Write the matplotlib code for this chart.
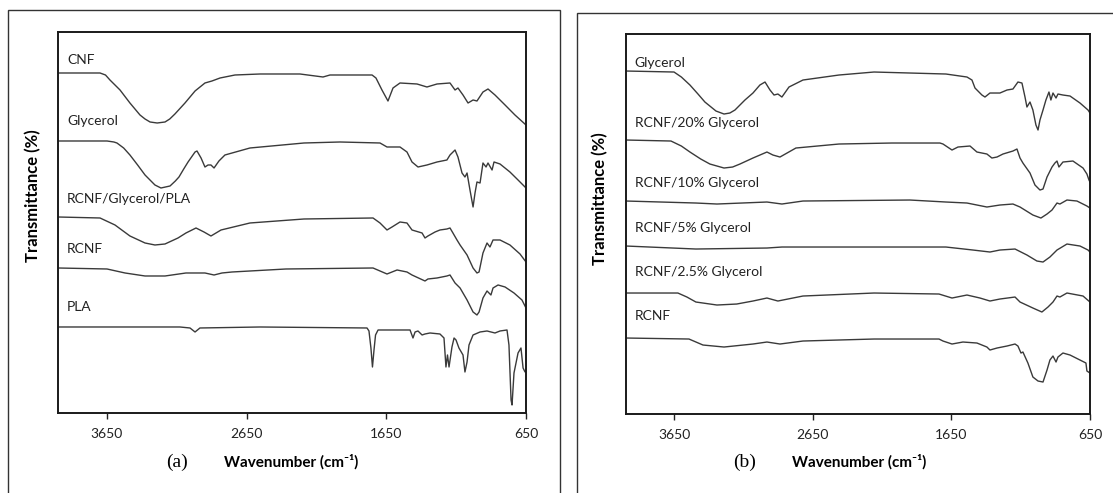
import matplotlib
matplotlib.use("Agg")
import matplotlib.pyplot as plt
from matplotlib.patches import Rectangle

plt.rcParams["font.family"] = ["Lato", "DejaVu Sans"]

# ---------------- panel (a) spectra (wavenumber, transmittance a.u.) ----------------
cnf_wn = [4000, 3699, 3660, 3628, 3556, 3485, 3413, 3377, 3341, 3290, 3234, 3200, 3163, 3091,
          3019, 2948, 2898, 2840, 2733, 2554, 2268, 2103, 2053, 1752, 1724, 1681, 1638, 1602,
          1552, 1430, 1359, 1287, 1194, 1158, 1137, 1101, 1065, 1029, 1001, 958, 922, 872,
          800, 729, 650]
cnf_t = [340, 340, 338, 333, 323, 310, 298, 294, 291, 290, 291, 294, 299, 310,
         322, 330, 332, 335, 338, 339, 339, 336, 338, 338, 335, 323, 312, 325,
         330, 329, 326, 329, 330, 323, 325, 318, 310, 313, 312, 321, 324, 318,
         308, 298, 288]

gly_a_wn = [4000, 3649, 3600, 3578, 3530, 3485, 3430, 3377, 3306, 3263, 3198, 3160, 3134, 3100,
            3069, 3019, 3005, 2976, 2948, 2926, 2905, 2883, 2848, 2805, 2626, 2239, 1981, 1695,
            1645, 1552, 1502, 1466, 1423, 1359, 1287, 1216, 1194, 1158, 1137, 1108, 1087, 1072,
            1051, 1029, 1015, 1001, 979, 958, 936, 922, 893, 879, 836, 765, 707, 650]
gly_a_t = [272, 272, 271, 270, 265, 258, 248, 238, 228, 225, 227, 232, 236, 244,
           251, 261, 262, 255, 246, 248, 248, 245, 252, 258, 265, 270, 271, 270,
           266, 266, 261, 251, 246, 248, 251, 253, 258, 263, 256, 240, 236, 240,
           223, 206, 220, 231, 230, 250, 246, 250, 243, 251, 249, 241, 233, 225]

rgp_wn = [4000, 3699, 3592, 3485, 3377, 3306, 3234, 3141, 3084, 3012, 2955, 2905, 2869, 2833,
          2626, 2239, 1745, 1695, 1645, 1609, 1552, 1502, 1466, 1394, 1373, 1352, 1301, 1266,
          1216, 1194, 1173, 1144, 1122, 1072, 1029, 1001, 986, 958, 929, 908, 886, 836, 765,
          693, 650]
rgp_t = [196, 195, 188, 177, 170, 168, 169, 175, 180, 185, 181, 177, 180, 183,
         190, 194, 195, 190, 183, 186, 191, 190, 183, 180, 175, 177, 181, 183,
         184, 185, 180, 173, 168, 158, 145, 140, 141, 160, 170, 166, 173, 173, 168,
         159, 151]

rcnf_a_wn = [4000, 3649, 3520, 3377, 3234, 3084, 2948, 2883, 2826, 2754, 2368, 1745, 1645, 1573,
             1502, 1466, 1373, 1352, 1287, 1216, 1194, 1158, 1122, 1072, 1029, 1001, 986, 958,
             929, 901, 886, 850, 800, 736, 679, 650]
rcnf_a_t = [145, 144, 140, 137, 137, 140, 140, 138, 140, 141, 144, 145, 139, 143,
            141, 138, 132, 134, 135, 137, 138, 130, 125, 113, 101, 98, 101, 115,
            122, 118, 125, 128, 126, 120, 113, 105]

pla_wn = [4000, 3127, 3055, 3019, 2984, 2554, 1788, 1774, 1760, 1749, 1738, 1727, 1709, 1480,
          1459, 1444, 1423, 1394, 1373, 1337, 1266, 1237, 1223, 1212, 1201, 1180, 1165, 1151,
          1130, 1101, 1087, 1072, 1058, 1029, 979, 929, 872, 836, 786, 772, 757, 750, 736,
          707, 686, 671, 657, 650]
pla_t = [86, 86, 85, 81, 85, 86, 85, 82, 65, 46, 63, 78, 83, 83,
         75, 81, 82, 78, 79, 80, 79, 75, 46, 58, 46, 66, 75, 73,
         65, 58, 41, 51, 68, 78, 81, 82, 80, 82, 83, 68, 13, 8, 40,
         60, 65, 45, 41, 41]

# ---------------- panel (b) spectra ----------------
gly_b_wn = [4000, 3653, 3600, 3538, 3480, 3430, 3350, 3292, 3250, 3213, 3141, 3083, 3033, 2996,
            2960, 2931, 2903, 2874, 2823, 2722, 2462, 2209, 1690, 1538, 1502, 1480, 1430, 1408,
            1372, 1300, 1249, 1206, 1170, 1141, 1119, 1105, 1083, 1062, 1040, 1025, 1011, 989,
            968, 946, 932, 917, 895, 881, 845, 794, 722, 664, 650]
gly_b_t = [343, 342, 337, 329, 320, 312, 303, 300, 301, 304, 314, 321, 329, 332,
           324, 319, 320, 317, 327, 334, 339, 342, 340, 337, 334, 326, 319, 317,
           321, 321, 324, 325, 332, 331, 317, 307, 312, 304, 289, 284, 294, 304,
           314, 322, 314, 321, 316, 320, 319, 318, 311, 304, 301]

g20_wn = [4000, 3675, 3600, 3538, 3460, 3394, 3292, 3230, 3177, 3083, 2982, 2939, 2888, 2773,
          2462, 2080, 1733, 1711, 1646, 1603, 1516, 1466, 1394, 1358, 1321, 1278, 1206, 1177,
          1155, 1134, 1083, 1047, 1011, 989, 960, 924, 903, 888, 874, 845, 773, 700, 672,
          657, 650]
g20_t = [274, 273, 268, 262, 255, 250, 246, 247, 250, 256, 262, 259, 257, 266,
         270, 271, 271, 270, 264, 267, 268, 262, 260, 256, 257, 260, 263, 265,
         256, 251, 241, 229, 224, 225, 237, 247, 251, 253, 247, 252, 253, 246, 240,
         234, 232]

g10_wn = [4000, 3495, 3343, 2982, 2874, 2722, 1950, 1690, 1538, 1394, 1300, 1206, 1155, 1062,
          1004, 960, 924, 888, 867, 816, 744, 672, 650]
g10_t = [213, 211, 210, 212, 210, 213, 214, 212, 211, 207, 209, 210, 207, 199,
         196, 200, 204, 211, 210, 214, 213, 208, 206]

g5_wn = [4000, 3495, 2982, 2874, 1690, 1495, 1372, 1300, 1191, 1105, 1033, 989, 939, 888,
         852, 816, 722, 664, 650]
g5_t = [168, 165, 166, 167, 167, 164, 162, 164, 165, 159, 153, 152, 157, 164,
        167, 170, 168, 164, 162]

g25_wn = [4000, 3625, 3560, 3495, 3343, 3200, 3083, 2982, 2903, 2722, 2209, 1740, 1646, 1538,
          1444, 1372, 1300, 1191, 1155, 1062, 997, 953, 917, 888, 867, 816, 700, 650]
g25_t = [121, 121, 117, 112, 109, 110, 113, 116, 113, 118, 121, 120, 116, 119,
         116, 113, 115, 117, 112, 106, 102, 107, 112, 118, 117, 121, 118, 112]

rcnf_b_wn = [4000, 3545, 3444, 3292, 3083, 2982, 2888, 2722, 2209, 1740, 1711, 1646, 1567, 1466,
             1394, 1372, 1321, 1249, 1191, 1170, 1148, 1134, 1098, 1062, 1025, 989, 960, 939,
             917, 895, 881, 845, 794, 722, 679, 672, 650]
rcnf_b_t = [76, 75, 69, 67, 70, 72, 70, 73, 75, 75, 73, 70, 72, 71,
            67, 64, 66, 68, 70, 68, 61, 62, 51, 37, 33, 32, 44, 54,
            58, 52, 57, 61, 59, 54, 51, 43, 41]

labels_a = ["CNF", "Glycerol", "RCNF/Glycerol/PLA", "RCNF", "PLA"]
labels_b = ["Glycerol", "RCNF/20% Glycerol", "RCNF/10% Glycerol", "RCNF/5% Glycerol",
            "RCNF/2.5% Glycerol", "RCNF"]
xticks = [3650, 2650, 1650, 650]

series_a = [(cnf_wn, cnf_t), (gly_a_wn, gly_a_t), (rgp_wn, rgp_t),
            (rcnf_a_wn, rcnf_a_t), (pla_wn, pla_t)]
series_b = [(gly_b_wn, gly_b_t), (g20_wn, g20_t), (g10_wn, g10_t),
            (g5_wn, g5_t), (g25_wn, g25_t), (rcnf_b_wn, rcnf_b_t)]

fig = plt.figure(figsize=(11.13, 4.93), dpi=100)

# outer frames round each panel
fig.add_artist(Rectangle((0.0076, -0.1), 0.4955, 1.0797, transform=fig.transFigure,
                         fill=False, edgecolor="#333333", linewidth=1.0, clip_on=False))
fig.add_artist(Rectangle((0.5184, -0.1), 0.6, 1.0746, transform=fig.transFigure,
                         fill=False, edgecolor="#333333", linewidth=1.0, clip_on=False))


def draw_panel(rect, series, labels, label_y, ymax, tag, tag_x, xlab_x, ylab_x, ylab_y):
    ax = fig.add_axes(rect)
    for (wn, t), name, ly in zip(series, labels, label_y):
        ax.plot(wn, t, color="#3a3a3a", linewidth=1.0, solid_joinstyle="round")
        ax.text(0.019, ly, name, transform=ax.transAxes, fontsize=10,
                color="#222222", va="center", ha="left")
    ax.set_xlim(4000, 650)
    ax.set_ylim(0, ymax)
    ax.set_xticks(xticks)
    ax.set_xticklabels([str(v) for v in xticks], fontsize=10)
    ax.set_yticks([])
    ax.tick_params(axis="x", direction="out", length=4, width=1, pad=7, colors="#222222")
    for s in ax.spines.values():
        s.set_linewidth(1.4)
        s.set_color("#1a1a1a")
    ax.set_ylabel("Transmittance (%)", fontsize=12, fontweight="bold")
    ax.yaxis.set_label_coords(ylab_x, ylab_y)
    fig.text(xlab_x, 1 - 462 / 493, "Wavenumber (cm\u207b\u00b9)", fontsize=11,
             fontweight="bold", ha="center", va="center")
    fig.text(tag_x, 1 - 462 / 493, tag, fontsize=14, family="Liberation Serif",
             ha="center", va="center")
    return ax


draw_panel([0.0521, 0.1623, 0.4205, 0.7728], series_a, labels_a,
           [0.927, 0.766, 0.562, 0.430, 0.278], 381, "(a)",
           177 / 1113, 291 / 1113, -0.036, 0.57)
draw_panel([0.5624, 0.1602, 0.4169, 0.7708], series_b, labels_b,
           [0.924, 0.766, 0.608, 0.489, 0.374, 0.258], 380, "(b)",
           745 / 1113, 859 / 1113, -0.039, 0.568)

fig.savefig("out.png", dpi=100)
